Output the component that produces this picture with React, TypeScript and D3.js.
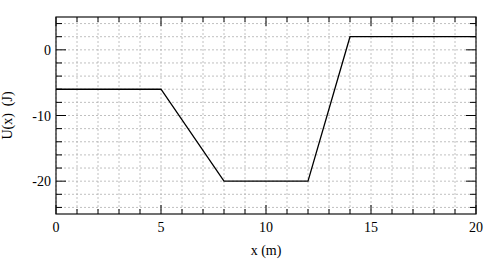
import React from "react";
import * as d3 from "d3";

const xs = [0, 5, 8, 12, 14, 20];
const us = [-6, -6, -20, -20, 2, 2];
const xMajor = [0, 5, 10, 15, 20];
const yMajor = [-20, -10, 0];
const xMinor = d3.range(0, 21, 1);
const yMinor = d3.range(-24, 5, 2);

export default function App() {
  const W = 494, H = 260;
  const L = 56, R = 476, T = 17, B = 214;
  const x = d3.scaleLinear().domain([0, 20]).range([L, R]);
  const y = d3.scaleLinear().domain([-25, 5]).range([B, T]);
  const line = d3.line<number>().x((_, i) => x(xs[i])).y((d) => y(d));
  const ts: React.CSSProperties = { fontFamily: "Liberation Serif", fontSize: "14px" };
  return (
    <svg width={W} height={H} style={{ position: "absolute", left: 0, top: 0 }}>
      <rect width={W} height={H} fill="#fff" />
      {xMinor.map((v) => (
        <line key={"gx" + v} x1={x(v)} x2={x(v)} y1={T} y2={B} stroke="#b0b0b0" strokeWidth={0.8} strokeDasharray="2,2" />
      ))}
      {yMinor.map((v) => (
        <line key={"gy" + v} x1={L} x2={R} y1={y(v)} y2={y(v)} stroke="#b0b0b0" strokeWidth={0.8} strokeDasharray="2,2" />
      ))}
      {xMinor.map((v) => {
        const len = v % 5 === 0 ? 9 : 5;
        return (
          <g key={"tx" + v}>
            <line x1={x(v)} x2={x(v)} y1={B} y2={B - len} stroke="#000" strokeWidth={1} />
            <line x1={x(v)} x2={x(v)} y1={T} y2={T + len} stroke="#000" strokeWidth={1} />
          </g>
        );
      })}
      {yMinor.map((v) => {
        const len = v % 10 === 0 ? 10 : 6;
        return (
          <g key={"ty" + v}>
            <line x1={L} x2={L + len} y1={y(v)} y2={y(v)} stroke="#000" strokeWidth={1} />
            <line x1={R} x2={R - len} y1={y(v)} y2={y(v)} stroke="#000" strokeWidth={1} />
          </g>
        );
      })}
      <rect x={L} y={T} width={R - L} height={B - T} fill="none" stroke="#111" strokeWidth={1.2} />
      <path d={line(us) || ""} fill="none" stroke="#000" strokeWidth={1.3} />
      {xMajor.map((v) => (
        <text key={"lx" + v} x={x(v)} y={232} textAnchor="middle" style={ts}>
          {v}
        </text>
      ))}
      {yMajor.map((v) => (
        <text key={"ly" + v} x={51} y={y(v) + 5} textAnchor="end" style={ts}>
          {v}
        </text>
      ))}
      <text x={266} y={255} textAnchor="middle" style={ts}>
        x (m)
      </text>
      <text transform={`translate(12,${(T + B) / 2}) rotate(-90)`} textAnchor="middle" style={{ ...ts, whiteSpace: "pre" }}>
        {"U(x)  (J)"}
      </text>
    </svg>
  );
}
